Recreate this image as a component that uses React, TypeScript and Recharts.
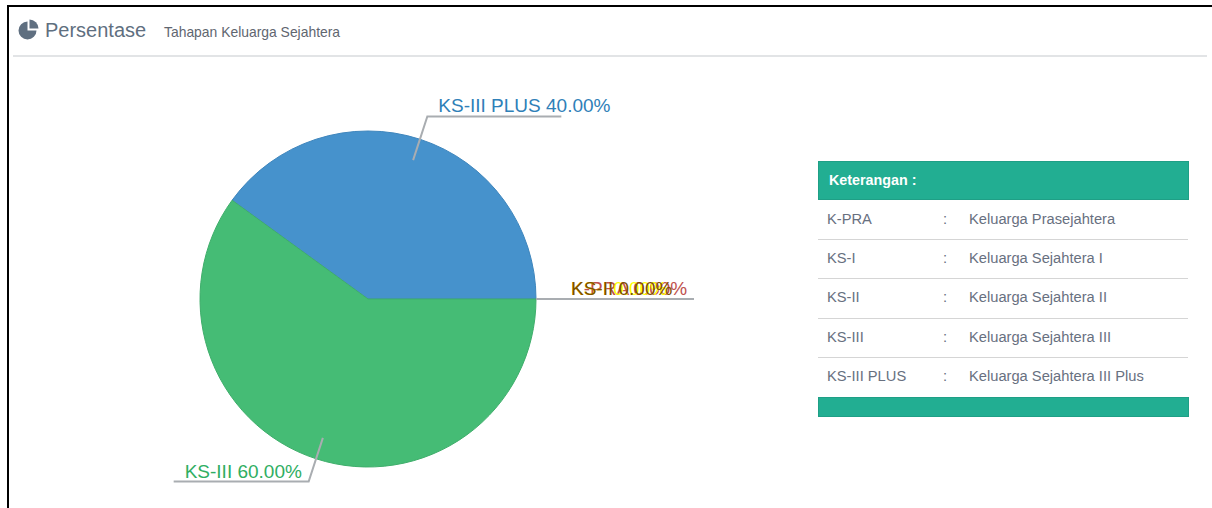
import { Pie, PieChart, Cell } from 'recharts';

const tahapan = ['K-PRA', 'KS-I', 'KS-II', 'KS-III PLUS', 'KS-III'];
const persen = [0, 0, 0, 40, 60];
const warna = ['#c0504d', '#ffff00', '#7f4f00', '#4692cc', '#45bc75'];
const tepi = ['#c0504d', '#ffff00', '#7f4f00', '#3f86bd', '#3fae6b'];
const warnaLabel = ['#c0504d', '#ffff00', '#7f4f00', '#2f80b8', '#2fae62'];

const kode = ['K-PRA', 'KS-I', 'KS-II', 'KS-III', 'KS-III PLUS'];
const keterangan = [
  'Keluarga Prasejahtera',
  'Keluarga Sejahtera I',
  'Keluarga Sejahtera II',
  'Keluarga Sejahtera III',
  'Keluarga Sejahtera III Plus',
];

const data = tahapan.map((name, i) => ({ name, value: persen[i] }));
const RAD = Math.PI / 180;
const font = '"Liberation Sans", Arial, sans-serif';

const renderLabel = (props: any) => {
  const { cx, cy, midAngle, outerRadius, index } = props;
  const cos = Math.cos(-midAngle * RAD);
  const sin = Math.sin(-midAngle * RAD);
  // zero slices: the inner part of the line stays hidden under the pie
  const inner = persen[index] === 0 ? outerRadius : outerRadius - 22;
  const x0 = cx + inner * cos;
  const y0 = cy + inner * sin;
  const x1 = cx + (outerRadius + 24) * cos;
  const y1 = cy + (outerRadius + 24) * sin;
  const right = cos >= 0;
  const x2 = right ? x1 + 134 : x1 - 135;
  const left = Math.min(x1, x2);
  return (
    <g key={index}>
      <polyline points={`${x0},${y0} ${x1},${y1} ${x2},${y1}`} fill="none" stroke="#a9adb1" strokeWidth={2} />
      <text x={left + 11} y={y1 - 4} fill={warnaLabel[index]} fontSize={19} fontFamily={font} textAnchor="start">
        {`${tahapan[index]} ${persen[index].toFixed(2)}%`}
      </text>
    </g>
  );
};

const PieIcon = () => (
  <svg width={22} height={22} viewBox="0 0 22 22" style={{ position: 'absolute', left: 18, top: 19 }}>
    <path d="M9.5 2.5 A9 9 0 1 0 18.5 11.5 L9.5 11.5 Z" fill="#5f6f80" />
    <path d="M11.5 0.5 A9 9 0 0 1 20.5 9.5 L11.5 9.5 Z" fill="#5f6f80" />
  </svg>
);

const App = () => (
  <div style={{ position: 'absolute', left: 0, top: 0, width: 1212, height: 508, background: '#fff', overflow: 'hidden', fontFamily: font }}>
    <div style={{ position: 'absolute', left: 7, top: 5, right: 0, height: 2, background: '#000' }} />
    <div style={{ position: 'absolute', left: 7, top: 5, bottom: 0, width: 2, background: '#000' }} />
    <PieIcon />
    <div style={{ position: 'absolute', left: 45, top: 18, fontSize: 20, color: '#5f6f80', lineHeight: '24px' }}>Persentase</div>
    <div style={{ position: 'absolute', left: 164, top: 24, fontSize: 13.9, color: '#5f6670', lineHeight: '17px' }}>Tahapan Keluarga Sejahtera</div>
    <div style={{ position: 'absolute', left: 13, top: 55, width: 1194, height: 2, background: '#e2e4e6' }} />

    <div style={{ position: 'absolute', left: 0, top: 0 }}>
      <PieChart width={1212} height={508} margin={{ top: 0, right: 0, bottom: 0, left: 0 }}>
        <Pie
          data={data}
          dataKey="value"
          nameKey="name"
          cx={368}
          cy={299}
          outerRadius={168}
          startAngle={0}
          endAngle={360}
          paddingAngle={0}
          label={renderLabel}
          labelLine={false}
          isAnimationActive={false}
        >
          {data.map((entry, i) => (
            <Cell key={entry.name} fill={warna[i]} stroke={tepi[i]} strokeWidth={1} />
          ))}
        </Pie>
      </PieChart>
    </div>

    <div style={{ position: 'absolute', left: 818, top: 161, width: 371, height: 39, boxSizing: 'border-box', background: '#22ae92', border: '1px solid #1f9f86', color: '#fff', fontSize: 14.3, fontWeight: 700, lineHeight: '36px', paddingLeft: 10 }}>
      Keterangan :
    </div>
    {kode.map((k, i) => (
      <div key={k} style={{ position: 'absolute', left: 818, top: 200.6 + i * 39.4, width: 370, height: 39.4, boxSizing: 'border-box', borderBottom: i < 4 ? '1px solid #d5d5d5' : 'none', fontSize: 14.7, lineHeight: '37px', color: '#68707f' }}>
        <span style={{ position: 'absolute', left: 9 }}>{k}</span>
        <span style={{ position: 'absolute', left: 125 }}>:</span>
        <span style={{ position: 'absolute', left: 151 }}>{keterangan[i]}</span>
      </div>
    ))}
    <div style={{ position: 'absolute', left: 818, top: 397, width: 371, height: 20, boxSizing: 'border-box', background: '#22ae92', border: '1px solid #1f9f86' }} />
  </div>
);

export default App;
